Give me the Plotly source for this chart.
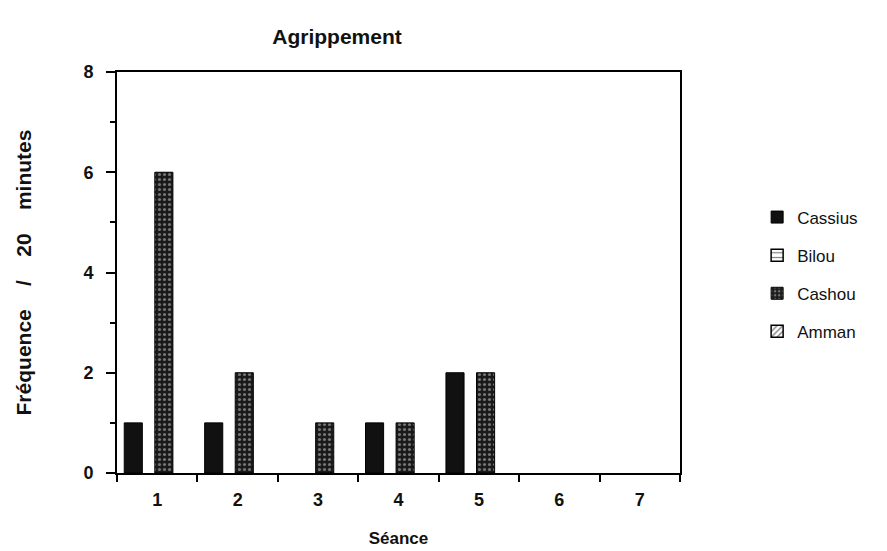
import plotly.graph_objects as go

# Session labels and grasping frequency per 20 minutes for each animal
seances = ["1", "2", "3", "4", "5", "6", "7"]
cassius = [1, 1, 0, 1, 2, 0, 0]
bilou = [0, 0, 0, 0, 0, 0, 0]
cashou = [6, 2, 1, 1, 2, 0, 0]
amman = [0, 0, 0, 0, 0, 0, 0]

FONT = "Liberation Sans, Arial, Helvetica, sans-serif"
INK = "#111"
SP = "\u00a0" * 4

series = [
    ("Cassius", cassius, dict(color="#111111", line=dict(color="#000", width=1)), -0.41),
    ("Bilou", bilou, dict(color="white", line=dict(color="#000", width=1.5),
                          pattern=dict(shape="-", fgcolor="#000", bgcolor="white", size=6, solidity=0.25)), -0.18),
    ("Cashou", cashou, dict(color="#222222", line=dict(color="#000", width=1),
                            pattern=dict(shape=".", fgcolor="#cfcfcf", bgcolor="#1a1a1a", size=5, solidity=0.3)), -0.03),
    ("Amman", amman, dict(color="white", line=dict(color="#000", width=1.5),
                          pattern=dict(shape="/", fgcolor="#000", bgcolor="white", size=5, solidity=0.35)), 0.2),
]

fig = go.Figure()
for name, vals, marker, off in series:
    # empty sessions leave no bar at all
    fig.add_trace(go.Bar(
        x=seances, y=[v if v else None for v in vals], name=name, marker=marker,
        width=0.225, offset=off, legendgroup=name,
    ))

fig.update_layout(
    width=887, height=551,
    margin=dict(l=117, r=207, t=72, b=78),
    paper_bgcolor="white", plot_bgcolor="white",
    barmode="overlay",
    font=dict(family=FONT, color=INK, size=16),
    title=dict(text="Agrippement", x=337 / 887, xanchor="center",
               y=1 - 37 / 551, yanchor="middle",
               font=dict(size=21, weight="bold", family=FONT, color=INK)),
    legend=dict(x=1.137, y=0.682, xanchor="left", yanchor="top",
                font=dict(size=17, family=FONT, color=INK),
                traceorder="grouped", tracegroupgap=13, bgcolor="rgba(0,0,0,0)"),
    showlegend=True,
)

fig.update_xaxes(
    type="category", categoryorder="array", categoryarray=seances,
    range=[-0.5, 6.5], tickson="boundaries", automargin=False,
    ticks="outside", ticklen=7, tickwidth=2, tickcolor="#000",
    ticklabelstandoff=9,
    showline=True, linecolor="#000", linewidth=2, mirror=True,
    showgrid=False, zeroline=False,
    tickfont=dict(size=18, weight="bold", family=FONT, color=INK),
    title=dict(text="Séance", standoff=24, font=dict(size=17, weight="bold", family=FONT, color=INK)),
)

fig.update_yaxes(
    range=[0, 8], tickvals=[0, 2, 4, 6, 8], ticks="outside", ticklen=9, tickwidth=2,
    tickcolor="#000", ticklabelstandoff=9, automargin=False,
    minor=dict(tickvals=[1, 3, 5, 7], ticks="outside", ticklen=5, tickwidth=2, tickcolor="#000"),
    showline=True, linecolor="#000", linewidth=2, mirror=True,
    showgrid=False, zeroline=False,
    tickfont=dict(size=18, weight="bold", family=FONT, color=INK),
    title=dict(text="Fréquence" + SP + "/" + SP + "20" + SP + "minutes", standoff=46,
               font=dict(size=21, weight="bold", family=FONT, color=INK)),
)

fig.write_html("out.html")
